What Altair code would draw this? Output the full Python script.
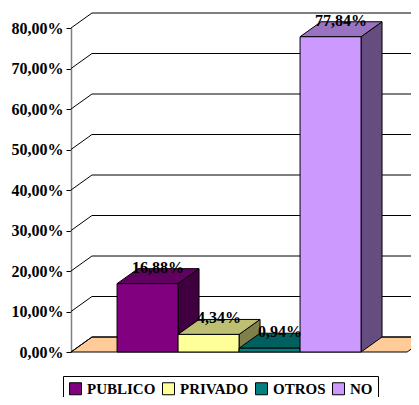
import altair as alt
import pandas as pd

categories = ["PUBLICO", "PRIVADO", "OTROS", "NO"]
values = [16.88, 4.34, 0.94, 77.84]
front_colors = ["#800080", "#FFFF99", "#008080", "#CC99FF"]
top_colors = ["#600060", "#BFBF73", "#006060", "#9973BF"]
side_colors = ["#400040", "#80804D", "#004040", "#664D80"]
y_ticks = [0, 10, 20, 30, 40, 50, 60, 70, 80]

# layout constants (in scale units)
PLOT_W = 340
OUTER = 0.755      # outer padding in bar widths
DX = 0.344         # depth offset in bar widths
DY = 3.7           # depth offset in y units (%)
FR = 2 * OUTER + len(categories)  # floor front right end
XMAX = PLOT_W / 61
FONT = "Liberation Serif, Times New Roman, serif"

xs = alt.Scale(domain=[0, XMAX], nice=False, zero=False)
ys = alt.Scale(domain=[0, 80], nice=False)
yaxis = alt.Axis(
    values=y_ticks, title=None, grid=False,
    labelExpr="replace(format(datum.value, '.2f'), '.', ',') + '%'",
    labelFont=FONT, labelFontWeight="bold", labelFontSize=16, labelColor="black",
    labelPadding=3, tickSize=5, tickColor="black", domainColor="#808080",
    domainWidth=1.5,
)


def X(f):
    return alt.X(f, scale=xs, axis=None, title=None)


def Y(f):
    return alt.Y(f, scale=ys, axis=yaxis, title=None)


fronts, tops, sides, labels = [], [], [], []
for i, (c, v) in enumerate(zip(categories, values)):
    x0 = OUTER + i
    fronts.append({"cat": c, "x0": x0, "x1": x0 + 1, "v": v, "base": 0})
    for (px, lo, hi) in [(x0, v, v), (x0 + DX, v, v + DY), (x0 + 1, v, v + DY), (x0 + 1 + DX, v + DY, v + DY)]:
        tops.append({"cat": c, "x": px, "lo": lo, "hi": hi, "col": top_colors[i]})
    for (px, lo, hi) in [(x0 + 1, 0, v), (x0 + 1 + DX, DY, v + DY)]:
        sides.append({"cat": c, "x": px, "lo": lo, "hi": hi, "col": side_colors[i]})
    labels.append({"cat": c, "x": x0 + 0.5 + DX / 2, "y": v + DY,
                   "t": f"{v:.2f}".replace(".", ",") + "%"})

floor = pd.DataFrame([
    {"x": 0, "lo": 0, "hi": 0},
    {"x": DX, "lo": 0, "hi": DY},
    {"x": FR, "lo": 0, "hi": DY},
    {"x": FR + DX, "lo": DY, "hi": DY},
])

slants = pd.DataFrame([{"x": 0, "x2": DX, "y": t, "y2": t + DY} for t in y_ticks])
hlines = pd.DataFrame([{"x": DX, "x2": 8, "y": t + DY} for t in y_ticks])

floor_layer = alt.Chart(floor).mark_area(
    orient="vertical", fill="#FFCC99", stroke="black", strokeWidth=1
).encode(x=X("x:Q"), y=Y("hi:Q"), y2="lo:Q")

slant_layer = alt.Chart(slants).mark_rule(color="black", strokeWidth=1).encode(
    x=X("x:Q"), x2="x2:Q", y=Y("y:Q"), y2="y2:Q",
)
hline_layer = alt.Chart(hlines).mark_rule(color="black", strokeWidth=1).encode(
    x=X("x:Q"), x2="x2:Q", y=Y("y:Q"),
)

side_layer = alt.Chart(pd.DataFrame(sides)).mark_area(
    orient="vertical", stroke="black", strokeWidth=1
).encode(
    x=X("x:Q"), y=Y("hi:Q"), y2="lo:Q",
    fill=alt.Fill("col:N", scale=None), detail="cat:N",
)

top_layer = alt.Chart(pd.DataFrame(tops)).mark_area(
    orient="vertical", stroke="black", strokeWidth=1
).encode(
    x=X("x:Q"), y=Y("hi:Q"), y2="lo:Q",
    fill=alt.Fill("col:N", scale=None), detail="cat:N",
)

front_layer = alt.Chart(pd.DataFrame(fronts)).mark_rect(
    stroke="black", strokeWidth=1, opacity=1
).encode(
    x=X("x0:Q"), x2="x1:Q",
    y=Y("v:Q"), y2="base:Q",
    fill=alt.Fill("cat:N", scale=alt.Scale(domain=categories, range=front_colors),
                  legend=alt.Legend(
                      orient="none", legendX=-8, legendY=348, direction="horizontal",
                      columns=4, title=None, symbolType="square", symbolSize=144,
                      symbolStrokeColor="black", symbolStrokeWidth=1, symbolOpacity=1,
                      labelFont=FONT, labelFontWeight="bold", labelFontSize=15,
                      labelColor="black", labelOffset=4, labelLimit=300,
                      strokeColor="black", padding=5, columnPadding=4,
                  )),
)

label_layer = alt.Chart(pd.DataFrame(labels)).mark_text(
    font=FONT, fontWeight="bold", fontSize=16, color="black",
    baseline="alphabetic", align="center", dy=4,
).encode(x=X("x:Q"), y=Y("y:Q"), text="t:N")

chart = alt.layer(
    floor_layer, slant_layer, hline_layer, side_layer, top_layer, front_layer, label_layer
).properties(
    width=PLOT_W, height=324,
    autosize=alt.AutoSizeParams(type="none"),
    padding={"left": 63, "top": 20, "right": 0, "bottom": 45},
).configure_view(stroke=None).configure_legend(strokeWidth=1)

chart.save("out.html", embed_options={"renderer": "svg", "actions": False})
